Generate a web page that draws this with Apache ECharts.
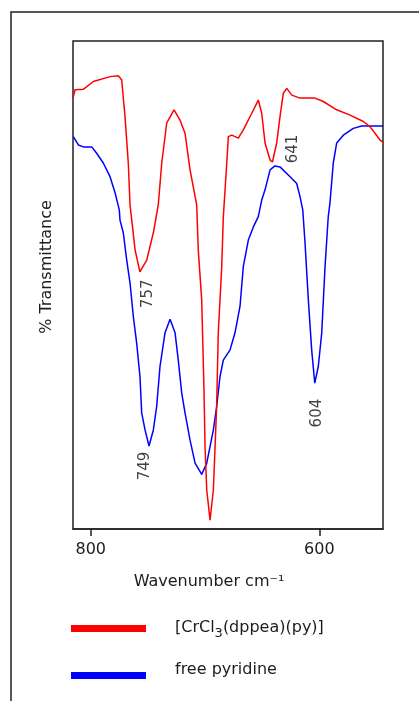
<!DOCTYPE html>
<html>
<head>
<meta charset="utf-8">
<script src="https://cdn.jsdelivr.net/npm/echarts@6/dist/echarts.min.js"></script>
<style>
  html, body { margin: 0; padding: 0; background: #fff; }
  #chart { width: 419px; height: 701px; }
</style>
</head>
<body>
<div id="chart"></div>
<script>
// IR spectra, 815–544 cm-1, % transmittance (arbitrary scale 0–100)
const complexWavenumber = [815.5, 813.7, 806.5, 797.7, 783.1, 775.9, 772.9, 770, 767.1, 765.6, 764.1, 761.2, 757, 751, 745.2, 740.9, 737.9, 733.5, 727.1, 721.9, 717.5, 713.1, 707.3, 705.9, 702.9, 700.9, 700, 698.5, 695.6, 692.7, 691.2, 689.8, 688.4, 685.4, 684, 681, 679.6, 676.6, 670.9, 666.5, 659.1, 653.4, 650.4, 647.5, 643.1, 641, 637.3, 634.4, 631.5, 628.5, 624.1, 616.9, 603.8, 596.5, 584.8, 573.1, 561.5, 555.6, 551.3, 546.9, 544.3];
const complexT = [88.3, 90.0, 90.1, 91.7, 92.7, 92.9, 92.0, 84.5, 74.9, 66.4, 63.3, 57.2, 52.7, 55.1, 60.7, 66.4, 74.9, 83.2, 85.9, 83.8, 81.1, 73.6, 66.4, 57.2, 46.9, 28.5, 16.9, 8.0, 1.8, 8.0, 16.9, 25.4, 40.2, 53.7, 63.9, 74.9, 80.4, 80.7, 80.1, 81.8, 85.2, 87.9, 85.2, 79.1, 75.6, 75.2, 79.1, 84.5, 89.3, 90.3, 88.9, 88.3, 88.3, 87.6, 85.9, 84.8, 83.5, 82.4, 81.1, 79.7, 79.3];

const pyridineWavenumber = [815.2, 810.8, 806.5, 799.1, 794.8, 789, 783.1, 778.7, 775, 774.4, 771.5, 768.5, 765.6, 762.7, 759.8, 756.9, 755.4, 752.5, 749, 745.2, 742.3, 739.4, 735, 730.6, 726.2, 723.4, 720.4, 717.5, 713.1, 708.7, 702.9, 698.5, 692.7, 689.8, 686.9, 684, 678.1, 673.8, 669.4, 666.5, 662.1, 657.7, 653.4, 650.4, 647.5, 643.1, 638.8, 634.4, 625.6, 619.8, 616.9, 614.5, 612.5, 609.6, 606.7, 604, 600.9, 597.9, 595, 592.2, 590.7, 587.8, 584.8, 579, 570.3, 563, 547, 544.3];
const pyridineT = [80.4, 78.7, 78.3, 78.3, 77.0, 75.0, 72.2, 68.9, 65.4, 63.3, 60.7, 55.1, 50.4, 43.5, 38.1, 31.2, 23.8, 20.3, 17.0, 20.3, 25.1, 33.3, 40.2, 43.0, 40.2, 34.6, 27.9, 23.8, 18.2, 13.5, 11.2, 13.5, 20.3, 25.1, 31.2, 34.6, 36.7, 40.2, 45.6, 53.8, 59.2, 61.9, 64.0, 67.4, 69.5, 73.6, 74.4, 74.2, 72.2, 70.8, 68.1, 65.4, 58.6, 46.9, 36.7, 29.9, 33.3, 40.2, 53.8, 64.0, 66.8, 75.0, 79.1, 80.7, 82.1, 82.6, 82.6, 82.6];

const complexPeaks = [757, 641];
const pyridinePeaks = [749, 604];
const xTicks = [800, 600];

const legendNames = ['[CrCl{sub|3}(dppea)(py)]', 'free pyridine'];

const zip = (xs, ys) => xs.map((x, i) => [x, ys[i]]);
const peakPoint = (wn, xs, ys) => [wn, ys[xs.indexOf(wn)]];

const TEXT = '#1c1c1c';
const FONT = 'DejaVu Sans';

// screen shift (right, down) of each band label from its band minimum
const labelShift = { 757: [8, 22], 749: [-4, 20], 604: [2, 30], 641: [21, -13] };
// labels are rotated 90°, so the offset is given in the rotated frame
const rotatedOffset = ([dx, dy]) => [-dy, dx];

const annotations = complexPeaks.map(w => peakPoint(w, complexWavenumber, complexT))
  .concat(pyridinePeaks.map(w => peakPoint(w, pyridineWavenumber, pyridineT)))
  .map(p => ({
    value: p,
    label: { offset: rotatedOffset(labelShift[p[0]]) }
  }));

const chart = echarts.init(document.getElementById('chart'), null, { renderer: 'canvas' });

chart.setOption({
  animation: false,
  backgroundColor: '#fff',
  grid: {
    left: 73, top: 41, width: 310, height: 488,
    show: true, borderColor: '#222', borderWidth: 1.5, backgroundColor: 'transparent'
  },
  xAxis: {
    type: 'value',
    inverse: true,
    min: 544.3,
    max: 815.5,
    splitLine: { show: false },
    axisLine: { show: true, lineStyle: { color: '#222', width: 1.5 } },
    axisTick: { show: true, length: 7, customValues: xTicks, lineStyle: { color: '#222', width: 1.5 } },
    axisLabel: {
      customValues: xTicks,
      margin: 13,
      color: TEXT, fontFamily: FONT, fontSize: 16
    }
  },
  yAxis: {
    type: 'value', min: 0, max: 100,
    show: false
  },
  series: [
    {
      name: 'complex',
      type: 'line',
      data: zip(complexWavenumber, complexT),
      showSymbol: false,
      lineStyle: { color: '#ff0000', width: 1.5 },
      z: 3
    },
    {
      name: 'pyridine',
      type: 'line',
      data: zip(pyridineWavenumber, pyridineT),
      showSymbol: false,
      lineStyle: { color: '#0000ff', width: 1.5 },
      z: 2
    },
    {
      name: 'bands',
      type: 'scatter',
      symbolSize: 0,
      data: annotations,
      silent: true,
      label: {
        show: true,
        position: 'inside',
        rotate: 90,
        formatter: p => String(p.value[0]),
        color: '#111', fontFamily: FONT, fontSize: 15
      },
      z: 4
    }
  ],
  graphic: [
    // outer frame
    {
      type: 'polyline',
      shape: { points: [[11, 701], [11, 12], [419, 12]] },
      style: { stroke: '#222', lineWidth: 1.5, fill: null }
    },
    // axis titles
    {
      type: 'text',
      x: 209, y: 582,
      style: {
        text: 'Wavenumber cm⁻¹',
        fill: TEXT, font: '16px "DejaVu Sans"',
        align: 'center', verticalAlign: 'middle'
      }
    },
    {
      type: 'text',
      x: 47, y: 267,
      rotation: Math.PI / 2,
      style: {
        text: '% Transmittance',
        fill: TEXT, font: '16px "DejaVu Sans"',
        align: 'center', verticalAlign: 'middle'
      }
    },
    // legend
    {
      type: 'rect',
      shape: { x: 71, y: 625, width: 75, height: 7 },
      style: { fill: '#ff0000' }
    },
    {
      type: 'rect',
      shape: { x: 71, y: 672, width: 75, height: 7 },
      style: { fill: '#0000ff' }
    },
    {
      type: 'text',
      x: 175, y: 628,
      style: {
        text: legendNames[0],
        fill: TEXT, font: '16px "DejaVu Sans"',
        verticalAlign: 'middle',
        rich: {
          sub: { fontSize: 13, fontFamily: FONT, fill: TEXT, padding: [12, 0, 0, 0] }
        }
      }
    },
    {
      type: 'text',
      x: 175, y: 670,
      style: {
        text: legendNames[1],
        fill: TEXT, font: '16px "DejaVu Sans"',
        verticalAlign: 'middle'
      }
    }
  ]
});
</script>
</body>
</html>
